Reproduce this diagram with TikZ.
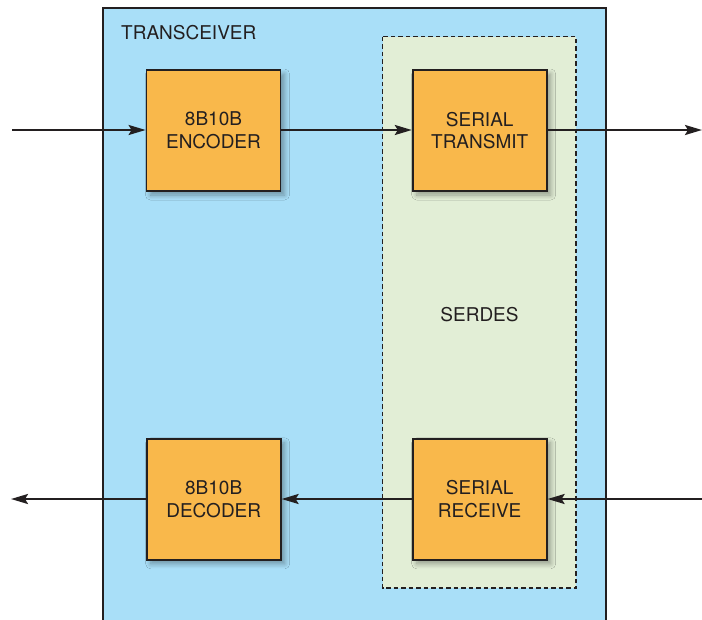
\documentclass[tikz,border=0pt]{standalone}
\usepackage{fontspec}
\setmainfont{TeX Gyre Heros}
\usetikzlibrary{arrows.meta,shadows.blur}
\definecolor{xcvrblue}{HTML}{A9DFF8}
\definecolor{serdesgreen}{HTML}{E2EED6}
\definecolor{blockorange}{HTML}{F9B84B}
\definecolor{inkgray}{HTML}{231F20}
\tikzset{
  block/.style={draw=inkgray, line width=1.8pt, fill=blockorange,
    minimum width=134pt, minimum height=121pt, inner sep=0pt,
    align=center, font=\fontsize{19}{22.7}\selectfont, text=inkgray,
    blur shadow={shadow xshift=4pt, shadow yshift=-4pt, shadow blur radius=5pt,
      shadow blur steps=8, shadow opacity=35}},
  sig/.style={draw=inkgray, line width=2.2pt,
    -{Stealth[length=17pt, width=10pt, inset=3pt]}},
  lbl/.style={font=\fontsize{19}{22.7}\selectfont, text=inkgray, inner sep=0pt}
}
\begin{document}
\begin{tikzpicture}[x=1pt, y=-1pt]
  \useasboundingbox (0,0) rectangle (702,619);
  \clip (0,0) rectangle (702,619);
  % transceiver enclosure (runs past the lower edge)
  \draw[draw=inkgray, line width=1.7pt, fill=xcvrblue] (103,8) rectangle (606,660);
  \node[lbl, anchor=base west] (xcvr) at (121,39) {TRANSCEIVER};
  % SERDES region
  \draw[draw=inkgray, line width=1.5pt, dash pattern=on 4.5pt off 3pt, fill=serdesgreen]
    (382.5,36.5) rectangle (576,588);
  \node[lbl] (serdes) at (479.5,315) {SERDES};
  % functional blocks
  \node[block] (enc) at (213.5,130.5) {8B10B\\ENCODER};
  \node[block] (tx)  at (479.7,130.5) {SERIAL\\TRANSMIT};
  \node[block] (dec) at (213.7,499.3) {8B10B\\DECODER};
  \node[block] (rx)  at (479.7,499.3) {SERIAL\\RECEIVE};
  % external signal ends
  \coordinate (inL)  at (12,130);
  \coordinate (outR) at (702,130);
  \coordinate (inR)  at (702,499);
  \coordinate (outL) at (11,499);
  % transmit path
  \draw[sig] (inL) -- (inL -| enc.west);
  \draw[sig] (enc.east |- inL) -- (tx.west |- inL);
  \draw[sig] (tx.east |- inL) -- (outR);
  % receive path
  \draw[sig] (inR) -- (rx.east |- inR);
  \draw[sig] (rx.west |- inR) -- (dec.east |- inR);
  \draw[sig] (dec.west |- inR) -- (outL);
\end{tikzpicture}
\end{document}
